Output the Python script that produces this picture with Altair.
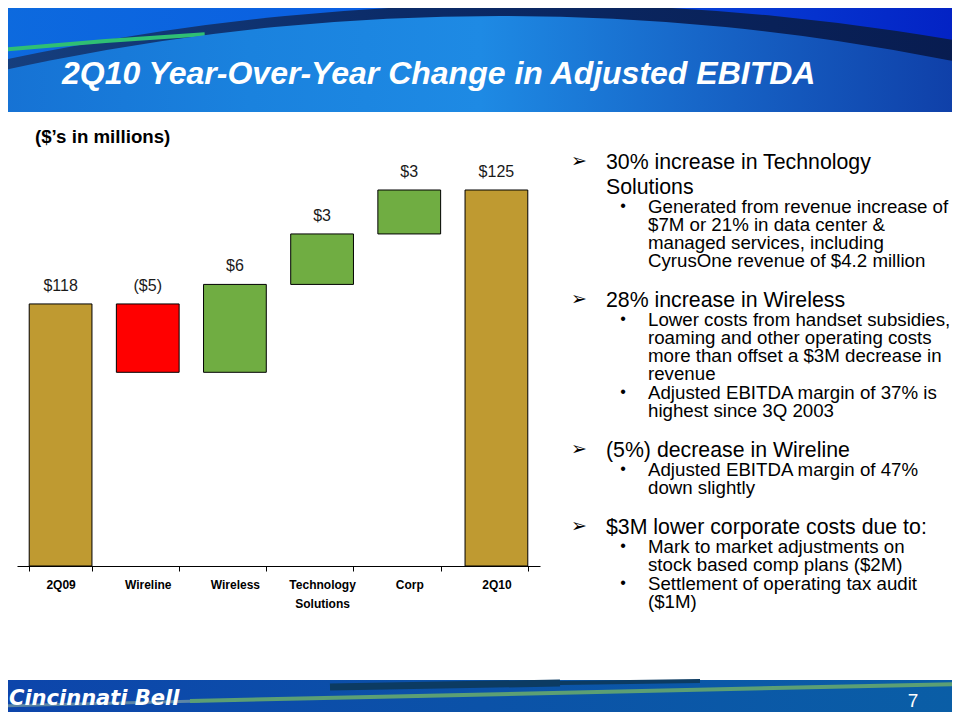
import altair as alt
import pandas as pd

# ---------------- data ----------------
categories = ["2Q09", "Wireline", "Wireless", "Technology Solutions", "Corp", "2Q10"]
start_total = 118.0
changes = [-4.2, 5.4, 3.1, 2.7]          # Wireline, Wireless, Technology Solutions, Corp
end_total = 125.0
value_labels = ["$118", "($5)", "$6", "$3", "$3", "$125"]

title_text = "2Q10 Year-Over-Year Change in Adjusted EBITDA"
subtitle_text = "($\u2019s in millions)"
logo_text = "Cincinnati Bell"
page_number = "7"

para_heads = [
    ["30% increase in Technology", "Solutions"],
    ["28% increase in Wireless"],
    ["(5%) decrease in Wireline"],
    ["$3M lower corporate costs due to:"],
]
para_subs = [
    [["Generated from revenue increase of", "$7M or 21% in data center &",
      "managed services, including", "CyrusOne revenue of $4.2 million"]],
    [["Lower costs from handset subsidies,", "roaming and other operating costs",
      "more than offset a $3M decrease in", "revenue"],
     ["Adjusted EBITDA margin of 37% is", "highest since 3Q 2003"]],
    [["Adjusted EBITDA margin of 47%", "down slightly"]],
    [["Mark to market adjustments on", "stock based comp plans ($2M)"],
     ["Settlement of operating tax audit", "($1M)"]],
]

# ---------------- waterfall table ----------------
lo, hi, kind = [0.0], [start_total], ["total"]
level = start_total
for c in changes:
    new = level + c
    lo.append(min(level, new))
    hi.append(max(level, new))
    kind.append("up" if c > 0 else "down")
    level = new
lo.append(0.0)
hi.append(end_total)
kind.append("total")
bars = pd.DataFrame({"cat": categories, "lo": lo, "hi": hi, "kind": kind, "label": value_labels})

# ---------------- layout helpers ----------------
W, H = 944, 704
OFF = 8
FONT = "Liberation Sans"


def px(v):
    return v - OFF


one = pd.DataFrame({"k": [0]})


def grad(stops, vertical=False):
    return {
        "gradient": "linear",
        "x1": 0, "y1": 0,
        "x2": 0 if vertical else 1,
        "y2": 1 if vertical else 0,
        "stops": [{"offset": o, "color": c} for o, c in stops],
    }


def rect(x1, y1, x2, y2, color):
    return alt.Chart(one).mark_rect(color=color, strokeWidth=0).encode(
        x=alt.value(px(x1)), x2=alt.value(px(x2)), y=alt.value(px(y1)), y2=alt.value(px(y2)))


def disk(cx, cy, r, color, r2=0, t1=0.0, t2=6.2832):
    return alt.Chart(one).mark_arc(
        theta=t1, theta2=t2, radius=r, radius2=r2, color=color, clip=True, strokeWidth=0
    ).encode(x=alt.value(px(cx)), y=alt.value(px(cy)))


def line(x1, y1, x2, y2, color, width):
    return alt.Chart(one).mark_rule(color=color, strokeWidth=width, strokeCap="butt").encode(
        x=alt.value(px(x1)), y=alt.value(px(y1)), x2=alt.value(px(x2)), y2=alt.value(px(y2)))


def text(lines, x, y, size, weight="normal", style="normal", color="black",
         font=FONT, lh=None, align="left", baseline="alphabetic"):
    mk = dict(align=align, baseline=baseline, font=font, fontSize=size,
              fontWeight=weight, fontStyle=style, color=color,
              text=lines if len(lines) > 1 else lines[0])
    if lh:
        mk["lineHeight"] = lh
    return alt.Chart(one).mark_text(**mk).encode(x=alt.value(px(x)), y=alt.value(px(y)))


layers = []

# ---------------- header ----------------
layers.append(rect(0, 0, 960, 112, grad([(0, "#0d6ade"), (0.4, "#0a5ee2"), (0.7, "#0742d8"), (1, "#0322c4")])))
# dark swoosh (upper circle)
R1, C1X, C1Y = 2500, 530, 2504
f1 = lambda x: (x - (C1X - R1)) / (2 * R1)
layers.append(disk(C1X, C1Y, R1, grad([(0, "#163f7e"), (f1(0), "#163f7e"), (f1(400), "#0b2b68"),
                                         (f1(960), "#081c50"), (1, "#081c50")])))
# green streak
layers.append(disk(530, 5524.5, 5502, "#2fbf74", r2=5498, t1=6.1850, t2=6.2240))
# lower area (lower circle) with horizontal gradient
R2, C2X, C2Y = 2300, 500, 2316
f2 = lambda x: (x - (C2X - R2)) / (2 * R2)
layers.append(disk(C2X, C2Y, R2, grad([(0, "#1672d4"), (f2(0), "#1672d4"), (f2(250), "#1a82de"),
                                         (f2(480), "#1e8ae4"), (f2(700), "#1766c8"),
                                         (f2(960), "#0f3fa8"), (1, "#0f3fa8")])))
# body
layers.append(rect(0, 112, 960, 680, "#ffffff"))
# footer
layers.append(rect(0, 680, 960, 720, grad([(0, "#0d45ab"), (0.5, "#0b52a8"), (1, "#0a5ea6")])))
layers.append(line(330, 687, 560, 683, "#0c3b62", 7))
layers.append(line(560, 683, 700, 681, "#0c3b62", 4))
layers.append(line(0, 706, 200, 701, "#5c86a6", 3))
layers.append(line(190, 701, 960, 684, "#5c9f74", 4))

# ---------------- texts ----------------
layers.append(text([title_text], 62, 83.5, 32, weight="bold", style="italic", color="#ffffff"))
layers.append(text([subtitle_text], 35, 142.7, 18.7, weight="bold"))
layers.append(text([logo_text], 9, 705, 21, weight="bold", style="italic", color="#ffffff", font="DejaVu Sans"))
layers.append(text([page_number], 913, 707, 19, color="#ffffff", align="center"))

y = 161
for head, subs in zip(para_heads, para_subs):
    layers.append(text(["\u27a2"], 579, y, 19, font="DejaVu Sans", align="center", baseline="middle"))
    layers.append(text(head, 606, y + 7.6, 21.3, lh=25))
    y_last = y + 25 * (len(head) - 1)
    y = y_last + 20
    for sub in subs:
        layers.append(text(["\u2022"], 623, y, 16, align="center", baseline="middle"))
        layers.append(text(sub, 648, y + 6.7, 18.7, lh=18))
        y_last = y + 18 * (len(sub) - 1)
        y = y_last + 19
    y = y_last + 39

# ---------------- waterfall ----------------
xscale = alt.Scale(domain=categories, range=[px(17), px(540)], paddingInner=0.28, paddingOuter=0.14)
yscale = alt.Scale(domain=[101.9, 125], range=[px(566), px(190)], zero=False, nice=False, clamp=True)

base = alt.Chart(bars).encode(
    x=alt.X("cat:N", sort=categories, scale=xscale,
            axis=alt.Axis(title=None, orient="bottom", offset=-146, labelAngle=0, zindex=2,
                          domainColor="black", domainWidth=1, tickColor="black", tickSize=5,
                          tickBand="extent", labelFont=FONT, labelFontSize=12,
                          labelFontWeight="bold", labelColor="black", labelPadding=8,
                          labelLineHeight=19,
                          labelExpr="datum.value == 'Technology Solutions' ? ['Technology', 'Solutions'] : datum.label")),
)
bar_layer = base.mark_bar(stroke="black", strokeWidth=1).encode(
    y=alt.Y("lo:Q", scale=yscale, axis=None),
    y2="hi:Q",
    color=alt.Color("kind:N", scale=alt.Scale(domain=["total", "down", "up"],
                                              range=["#bf9a31", "#ff0000", "#70ad42"]), legend=None),
)
label_layer = base.mark_text(font=FONT, fontSize=16, color="#1a1a1a", baseline="middle", dy=-18).encode(
    y=alt.Y("hi:Q", scale=yscale, axis=None),
    text="label:N",
)
layers.append(bar_layer)
layers.append(label_layer)

chart = alt.layer(*layers).properties(
    width=W, height=H, padding=0,
    autosize=alt.AutoSizeParams(type="none"),
    background="white",
).configure_view(strokeWidth=0)

chart.save("out.html", embed_options={"renderer": "svg", "actions": False})
